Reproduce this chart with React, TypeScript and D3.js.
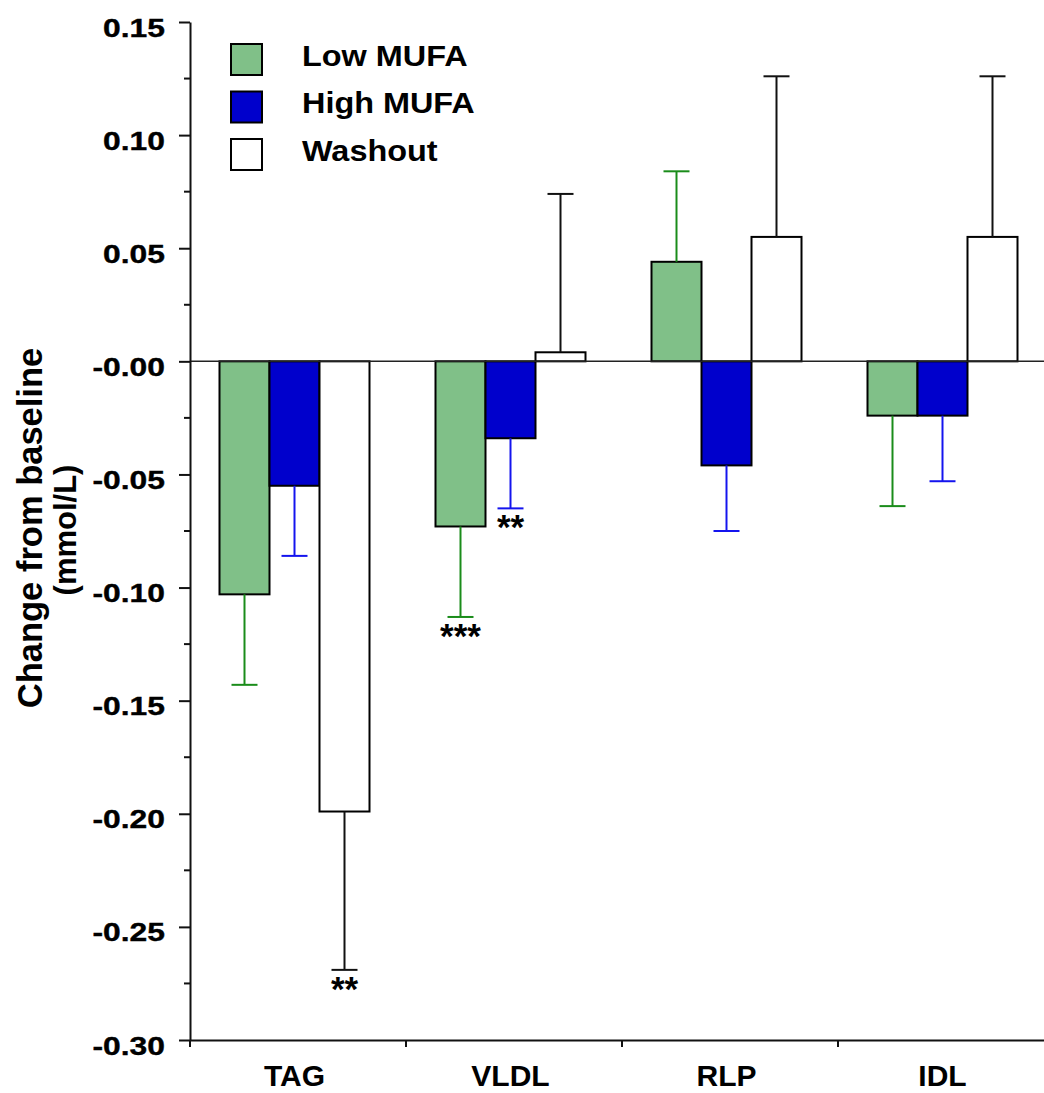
import React, { useEffect, useRef } from "react";
import * as d3 from "d3";

// categories and series
const categories = ["TAG", "VLDL", "RLP", "IDL"];
const seriesNames = ["Low MUFA", "High MUFA", "Washout"];

// mean change from baseline (mmol/L)
const lowMufa = [-0.103, -0.073, 0.044, -0.024];
const highMufa = [-0.055, -0.034, -0.046, -0.024];
const washout = [-0.199, 0.004, 0.055, 0.055];

// error bar lengths (drawn away from zero)
const lowMufaErr = [0.04, 0.04, 0.04, 0.04];
const highMufaErr = [0.031, 0.031, 0.029, 0.029];
const washoutErr = [0.07, 0.07, 0.071, 0.071];

// significance marks
const lowMufaSig = ["", "***", "", ""];
const highMufaSig = ["", "**", "", ""];
const washoutSig = ["**", "", "", ""];

const yTicks = [0.15, 0.1, 0.05, 0, -0.05, -0.1, -0.15, -0.2, -0.25, -0.3];

const fills = ["#80c088", "#0000cc", "#ffffff"];
const errColors = ["#1a8c1a", "#1414ee", "#111111"];

const App = () => {
  const svgRef = useRef(null);

  useEffect(() => {
    drawChart();
  }, []);

  const drawChart = () => {
    const svg = d3.select(svgRef.current);
    svg.selectAll("*").remove();

    const width = 1044;
    const left = 190;
    const font = "'Liberation Sans', Arial, Helvetica, sans-serif";

    const y = d3.scaleLinear().domain([-0.3, 0.15]).range([1040, 22]);
    const x = d3.scaleBand().domain(categories).range([left, 1054]).padding(0);
    const xs = d3.scaleBand().domain(seriesNames).range([29.5, 179.5]).padding(0);

    const values = [lowMufa, highMufa, washout];
    const errs = [lowMufaErr, highMufaErr, washoutErr];
    const sigs = [lowMufaSig, highMufaSig, washoutSig];

    const data = [];
    seriesNames.forEach((s, si) => {
      categories.forEach((c, ci) => {
        data.push({
          cat: c,
          series: s,
          si,
          value: values[si][ci],
          err: errs[si][ci],
          sig: sigs[si][ci],
        });
      });
    });

    // bars
    svg
      .append("g")
      .selectAll("rect")
      .data(data)
      .join("rect")
      .attr("x", (d) => x(d.cat) + xs(d.series))
      .attr("width", xs.bandwidth())
      .attr("y", (d) => Math.min(y(d.value), y(0)))
      .attr("height", (d) => Math.abs(y(d.value) - y(0)))
      .attr("fill", (d) => fills[d.si])
      .attr("stroke", "#000")
      .attr("stroke-width", 2);

    // error bars
    const eg = svg.append("g");
    data.forEach((d) => {
      const cx = x(d.cat) + xs(d.series) + xs.bandwidth() / 2;
      const end = d.value >= 0 ? d.value + d.err : d.value - d.err;
      eg.append("line")
        .attr("x1", cx)
        .attr("x2", cx)
        .attr("y1", y(d.value))
        .attr("y2", y(end))
        .attr("stroke", errColors[d.si])
        .attr("stroke-width", 2);
      eg.append("line")
        .attr("x1", cx - 13)
        .attr("x2", cx + 13)
        .attr("y1", y(end))
        .attr("y2", y(end))
        .attr("stroke", errColors[d.si])
        .attr("stroke-width", 2);
      if (d.sig) {
        eg.append("text")
          .attr("x", cx)
          .attr("y", y(end) + 31)
          .attr("text-anchor", "middle")
          .attr("font-family", font)
          .attr("font-weight", "bold")
          .attr("font-size", 35)
          .text(d.sig);
      }
    });

    // zero line
    svg
      .append("line")
      .attr("x1", left)
      .attr("x2", width)
      .attr("y1", y(0))
      .attr("y2", y(0))
      .attr("stroke", "#222")
      .attr("stroke-width", 1.5);

    // y axis
    const yAxis = d3
      .axisLeft(y)
      .tickValues(yTicks)
      .tickSize(11)
      .tickSizeOuter(0)
      .tickFormat((v) => (v === 0 ? "-0.00" : d3.format(".2f")(v).replace("\u2212", "-")));
    const ya = svg
      .append("g")
      .attr("transform", `translate(${left},0)`)
      .call(yAxis);
    ya.select(".domain").attr("stroke", "#111").attr("stroke-width", 2);
    ya.selectAll(".tick line").attr("stroke", "#111").attr("stroke-width", 2);
    ya.selectAll(".tick text")
      .attr("x", 0)
      .attr("dy", null)
      .attr("y", 0)
      .attr("transform", "translate(-25,14) scale(1.2,1)")
      .attr("font-family", font)
      .attr("font-weight", "bold")
      .attr("font-size", 26.5)
      .attr("stroke", "#000")
      .attr("stroke-width", 0.4)
      .attr("fill", "#000");

    // minor ticks
    const minor = d3.range(0, 9).map((i) => 0.125 - i * 0.05);
    svg
      .append("g")
      .selectAll("line")
      .data(minor)
      .join("line")
      .attr("x1", left - 6)
      .attr("x2", left)
      .attr("y1", (d) => y(d))
      .attr("y2", (d) => y(d))
      .attr("stroke", "#111")
      .attr("stroke-width", 2);

    // x axis
    const xAxis = d3.axisBottom(x).tickSize(0).tickFormat(() => "");
    const xa = svg
      .append("g")
      .attr("transform", `translate(0,${y(-0.3)})`)
      .call(xAxis);
    xa.select(".domain").attr("stroke", "#111").attr("stroke-width", 2);
    xa.selectAll(".tick").remove();

    svg
      .append("g")
      .selectAll("line")
      .data(categories)
      .join("line")
      .attr("x1", (d) => x(d))
      .attr("x2", (d) => x(d))
      .attr("y1", y(-0.3))
      .attr("y2", y(-0.3) + 7)
      .attr("stroke", "#111")
      .attr("stroke-width", 2);

    svg
      .append("g")
      .selectAll("text")
      .data(categories)
      .join("text")
      .attr("x", (d) => x(d) + xs.range()[0] + (xs.range()[1] - xs.range()[0]) / 2)
      .attr("y", 1086)
      .attr("text-anchor", "middle")
      .attr("font-family", font)
      .attr("font-weight", "bold")
      .attr("font-size", 30)
      .text((d) => d);

    // y title
    const title = svg
      .append("g")
      .attr("font-family", font)
      .attr("font-weight", "bold")
      .attr("text-anchor", "middle");
    title
      .append("text")
      .attr("transform", "translate(42,528) rotate(-90)")
      .attr("font-size", 34.5)
      .text("Change from baseline");
    title
      .append("text")
      .attr("transform", "translate(76,530) rotate(-90)")
      .attr("font-size", 31)
      .text("(mmol/L)");

    // legend
    const legend = svg.append("g");
    seriesNames.forEach((s, i) => {
      const ly = 44 + i * 47.5;
      legend
        .append("rect")
        .attr("x", 231)
        .attr("y", ly)
        .attr("width", 31)
        .attr("height", 31)
        .attr("fill", fills[i])
        .attr("stroke", "#000")
        .attr("stroke-width", 2);
      legend
        .append("text")
        .attr("transform", `translate(302,${ly + 21.5}) scale(1.08,1)`)
        .attr("font-family", font)
        .attr("font-weight", "bold")
        .attr("font-size", 30)
        .text(s);
    });
  };

  return (
    <svg
      ref={svgRef}
      width="1044"
      height="1093"
      style={{ position: "absolute", left: 0, top: 0, background: "#fff" }}
    ></svg>
  );
};

export default App;
